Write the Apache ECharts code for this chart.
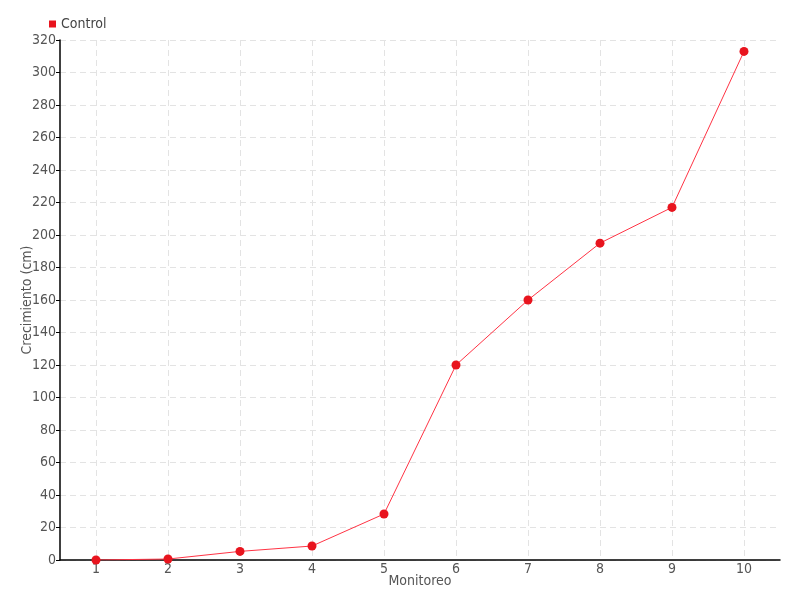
<!DOCTYPE html>
<html><head><meta charset="utf-8">
<script src="https://cdn.jsdelivr.net/npm/echarts@6/dist/echarts.min.js"></script>
<style>html,body{margin:0;padding:0;background:#fff}#c{width:800px;height:600px}</style>
</head><body><div id="c"></div>
<script>
const categories = ['1','2','3','4','5','6','7','8','9','10'];
const controlValues = [0, 0.6, 5.3, 8.6, 28.3, 120, 160, 195, 217, 313];
const seriesName = 'Control';
const xName = 'Monitoreo';
const yName = 'Crecimiento (cm)';

const font = '"Liberation Sans Narrow","DejaVu Sans Condensed",sans-serif';
const chart = echarts.init(document.getElementById('c'));
chart.setOption({
  animation: false,
  textStyle: {fontFamily: font},
  legend: {
    left: 44, top: 12, itemWidth: 7, itemHeight: 7, itemGap: 4,
    icon: 'rect',
    textStyle: {fontFamily: font, fontSize: 14, color: '#444'},
    data: [seriesName]
  },
  grid: {left: 60, right: 20, top: 40, bottom: 40},
  xAxis: {
    type: 'category', data: categories, boundaryGap: true,
    name: xName, nameLocation: 'middle', nameGap: 14, nameMoveOverlap: false,
    nameTextStyle: {fontFamily: font, fontSize: 14, color: '#555'},
    axisLine: {lineStyle: {color: '#000', width: 1.5}},
    axisTick: {alignWithLabel: true, length: 4, lineStyle: {color: '#000'}},
    axisLabel: {fontFamily: font, fontSize: 14, color: '#555', margin: 2},
    splitLine: {show: true, alignWithLabel: true, lineStyle: {color: '#e3e3e3', type: [6, 4]}}
  },
  yAxis: {
    type: 'value', min: 0, max: 320, interval: 20,
    name: yName, nameLocation: 'middle', nameGap: 26, nameMoveOverlap: false,
    nameTextStyle: {fontFamily: font, fontSize: 14, color: '#555'},
    axisLine: {show: true, lineStyle: {color: '#000', width: 1.5}},
    axisTick: {show: true, length: 4, lineStyle: {color: '#000'}},
    axisLabel: {fontFamily: font, fontSize: 14, color: '#555', margin: 4},
    splitLine: {show: true, lineStyle: {color: '#e3e3e3', type: [6, 4]}}
  },
  series: [{
    name: seriesName, type: 'line', data: controlValues,
    symbol: 'circle', symbolSize: 9,
    itemStyle: {color: '#e8141e'},
    lineStyle: {color: '#ff3344', width: 1}
  }]
});
</script></body></html>
